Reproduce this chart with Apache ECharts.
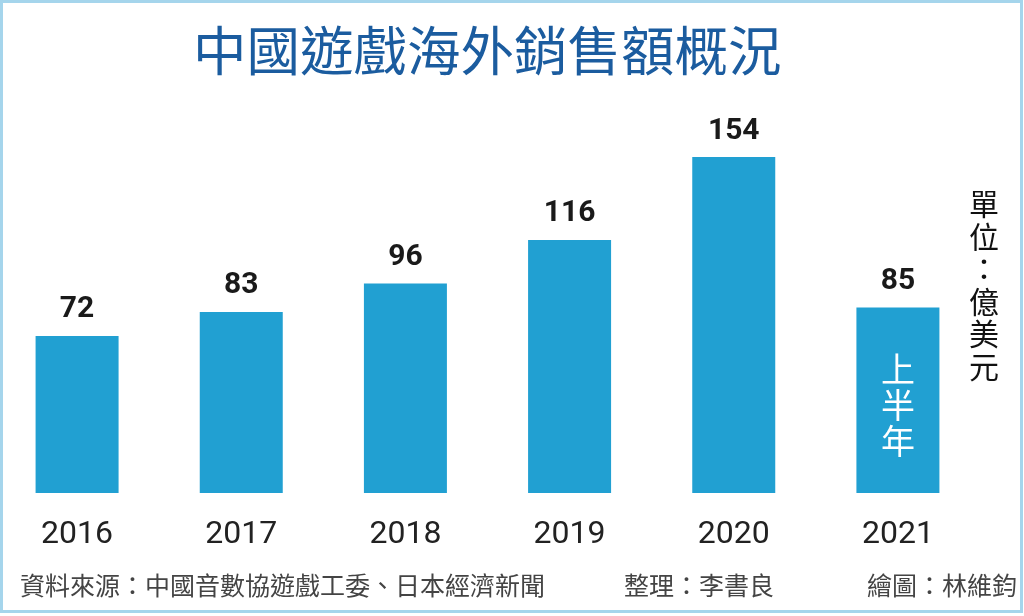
<!DOCTYPE html>
<html>
<head>
<meta charset="utf-8">
<title>中國遊戲海外銷售額概況</title>
<script src="https://cdn.jsdelivr.net/npm/echarts@6/dist/echarts.min.js"></script>
<style>
    html, body { margin: 0; padding: 0; background: #fff; overflow: hidden; }
    /* 往左移5px，讓第一根柱子貼近左框 */
    #main { width: 1029px; height: 616px; margin-left: -5px; }
</style>
</head>
<body>
<div id="main"></div>
<script>
// 數據
var years = ['2016', '2017', '2018', '2019', '2020', '2021'];
var sales = [72, 83, 96, 116, 154, 85];
var unitText = '單位：億美元';
var halfYearText = '上半年';
var sourceText = '資料來源：中國音數協遊戲工委、日本經濟新聞';
var editorText = '整理：李書良';
var drawerText = '繪圖：林維鈞';

var cjk = '"Noto Sans CJK TC", "Noto Sans CJK SC", sans-serif';
var num = 'Roboto, "Noto Sans", sans-serif';
var dx = 5; // div偏移

var myChart = echarts.init(document.getElementById('main'));

var option = {
    backgroundColor: '#fff',
    animation: false,
    title: {
        text: '中國遊戲海外銷售額概況',
        left: 188 + dx,
        top: 19,
        textStyle: {
            color: '#1b5c9f',
            fontSize: 53.5,
            fontWeight: 'normal',
            fontFamily: cjk
        }
    },
    grid: {
        left: 0,
        right: 44,
        top: 157,
        bottom: 123
    },
    xAxis: {
        type: 'category',
        data: years,
        axisLine: { show: false },
        axisTick: { show: false },
        axisLabel: {
            margin: 26,
            color: '#222',
            fontSize: 32,
            fontFamily: num
        }
    },
    yAxis: {
        type: 'value',
        min: 0,
        max: 154,
        show: false
    },
    series: [
        {
            type: 'bar',
            data: sales,
            barWidth: 83,
            itemStyle: {
                color: '#21a0d2'
            },
            label: {
                show: true,
                position: 'top',
                distance: 11,
                color: '#1a1a1a',
                fontSize: 30,
                fontWeight: 'bold',
                fontFamily: num
            }
        }
    ]
};
myChart.setOption(option);

// 2021柱內文字位置
var x2021 = myChart.convertToPixel({ xAxisIndex: 0 }, years[years.length - 1]);
if (typeof x2021 !== 'number' || isNaN(x2021)) {
    x2021 = 898 + dx;
}

myChart.setOption({
    graphic: [
        //外框
        {
            type: 'rect',
            shape: { x: 1.5 + dx, y: 1.5, width: 1020, height: 610 },
            style: { fill: 'none', stroke: '#a5d5ec', lineWidth: 3 },
            silent: true
        },
        //單位
        {
            type: 'text',
            x: 984 + dx,
            y: 285,
            style: {
                text: unitText.split('').join('\n'),
                fill: '#111',
                font: '30px ' + cjk,
                lineHeight: 32.5,
                align: 'center',
                verticalAlign: 'middle'
            }
        },
        //上半年
        {
            type: 'text',
            x: x2021,
            y: 405,
            z: 100,
            style: {
                text: halfYearText.split('').join('\n'),
                fill: '#fff',
                font: '34px ' + cjk,
                lineHeight: 36,
                align: 'center',
                verticalAlign: 'middle'
            }
        },
        //底部來源
        {
            type: 'text',
            x: 20 + dx,
            y: 585,
            style: {
                text: sourceText,
                fill: '#444',
                font: '25px ' + cjk,
                verticalAlign: 'middle'
            }
        },
        {
            type: 'text',
            x: 624 + dx,
            y: 585,
            style: {
                text: editorText,
                fill: '#444',
                font: '25px ' + cjk,
                verticalAlign: 'middle'
            }
        },
        {
            type: 'text',
            x: 1017 + dx,
            y: 585,
            style: {
                text: drawerText,
                fill: '#444',
                font: '25px ' + cjk,
                align: 'right',
                verticalAlign: 'middle'
            }
        }
    ]
});

window.addEventListener('resize', function () {
    myChart.resize();
});
</script>
</body>
</html>
